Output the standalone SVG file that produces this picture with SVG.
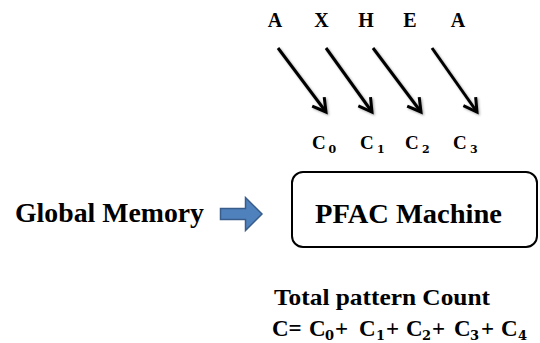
<svg xmlns="http://www.w3.org/2000/svg" width="540" height="343" viewBox="0 0 540 343" font-family="'Liberation Serif', 'DejaVu Serif', serif">
  <style>
    text { font-family: 'Liberation Serif', 'DejaVu Serif', serif; font-weight: 700; fill: #000; }
    text.sub { font-family: 'DejaVu Serif', 'Liberation Serif', serif; }
    .arrow { stroke: #000; stroke-width: 3; fill: none; stroke-linecap: butt; marker-end: url(#chev); filter: url(#shadow); }
  </style>
  <defs>
    <marker id="chev" markerUnits="userSpaceOnUse" markerWidth="20" markerHeight="20" viewBox="-15 -10 17 20" refX="0" refY="0" orient="auto">
      <path d="M-13,-7.5 L0,0 L-13,7.5" fill="none" stroke="#000" stroke-width="3" stroke-linejoin="miter"/>
    </marker>
    <filter id="shadow" x="-20%" y="-20%" width="140%" height="140%">
      <feDropShadow dx="1.2" dy="1.2" stdDeviation="0.8" flood-color="#000" flood-opacity="0.35"/>
    </filter>
  </defs>

  <!-- input characters -->
  <g id="chars" font-size="20" text-anchor="middle">
    <text x="275" y="27">A</text>
    <text x="321.5" y="27">X</text>
    <text x="366" y="27">H</text>
    <text x="410" y="27">E</text>
    <text x="458" y="27">A</text>
  </g>

  <!-- diagonal arrows into the counters -->
  <g id="connectors">
    <line class="arrow" x1="278" y1="48" x2="326" y2="112"/>
    <line class="arrow" x1="326" y1="48" x2="372" y2="112"/>
    <line class="arrow" x1="373" y1="48" x2="421" y2="112"/>
    <line class="arrow" x1="432" y1="48" x2="477" y2="112"/>
    <!-- block arrow from global memory to the machine -->
    <path id="mem-arrow" d="M220.5,208.5 H245.5 V197.5 L262,214 L245.5,230.5 V219.5 H220.5 Z" fill="#4F81BD" stroke="#385D8A" stroke-width="1.5"/>
  </g>

  <!-- per-thread counters -->
  <g id="counters">
    <text font-size="19" x="312" y="149">C</text><text class="sub" font-size="11" x="328.5" y="153">0</text>
    <text font-size="19" x="360" y="149">C</text><text class="sub" font-size="11" x="377" y="153">1</text>
    <text font-size="19" x="405" y="149">C</text><text class="sub" font-size="11" x="422" y="153">2</text>
    <text font-size="19" x="453" y="149">C</text><text class="sub" font-size="11" x="470" y="153">3</text>
  </g>

  <g id="global-memory">
    <text font-size="27" x="15" y="222" textLength="189" lengthAdjust="spacingAndGlyphs">Global Memory</text>
  </g>

  <g id="pfac-machine">
    <rect x="292" y="172" width="245" height="75" rx="11" ry="11" fill="#fff" stroke="#000" stroke-width="2"/>
    <text font-size="27" x="315" y="223" textLength="187" lengthAdjust="spacingAndGlyphs">PFAC Machine</text>
  </g>

  <g id="total-count" font-size="23">
    <text x="274" y="305" font-size="24" textLength="216" lengthAdjust="spacingAndGlyphs">Total pattern Count</text>
    <text x="272" y="336">C=</text>
    <text x="309" y="336">C</text><text class="sub" font-size="13" x="325" y="340">0</text><text x="335" y="336">+</text>
    <text x="359" y="336">C</text><text class="sub" font-size="13" x="376" y="340">1</text><text x="386" y="336">+</text>
    <text x="406" y="336">C</text><text class="sub" font-size="13" x="422" y="340">2</text><text x="432" y="336">+</text>
    <text x="454" y="336">C</text><text class="sub" font-size="13" x="470" y="340">3</text><text x="481" y="336">+</text>
    <text x="501" y="336">C</text><text class="sub" font-size="13" x="518" y="340">4</text>
  </g>
</svg>
